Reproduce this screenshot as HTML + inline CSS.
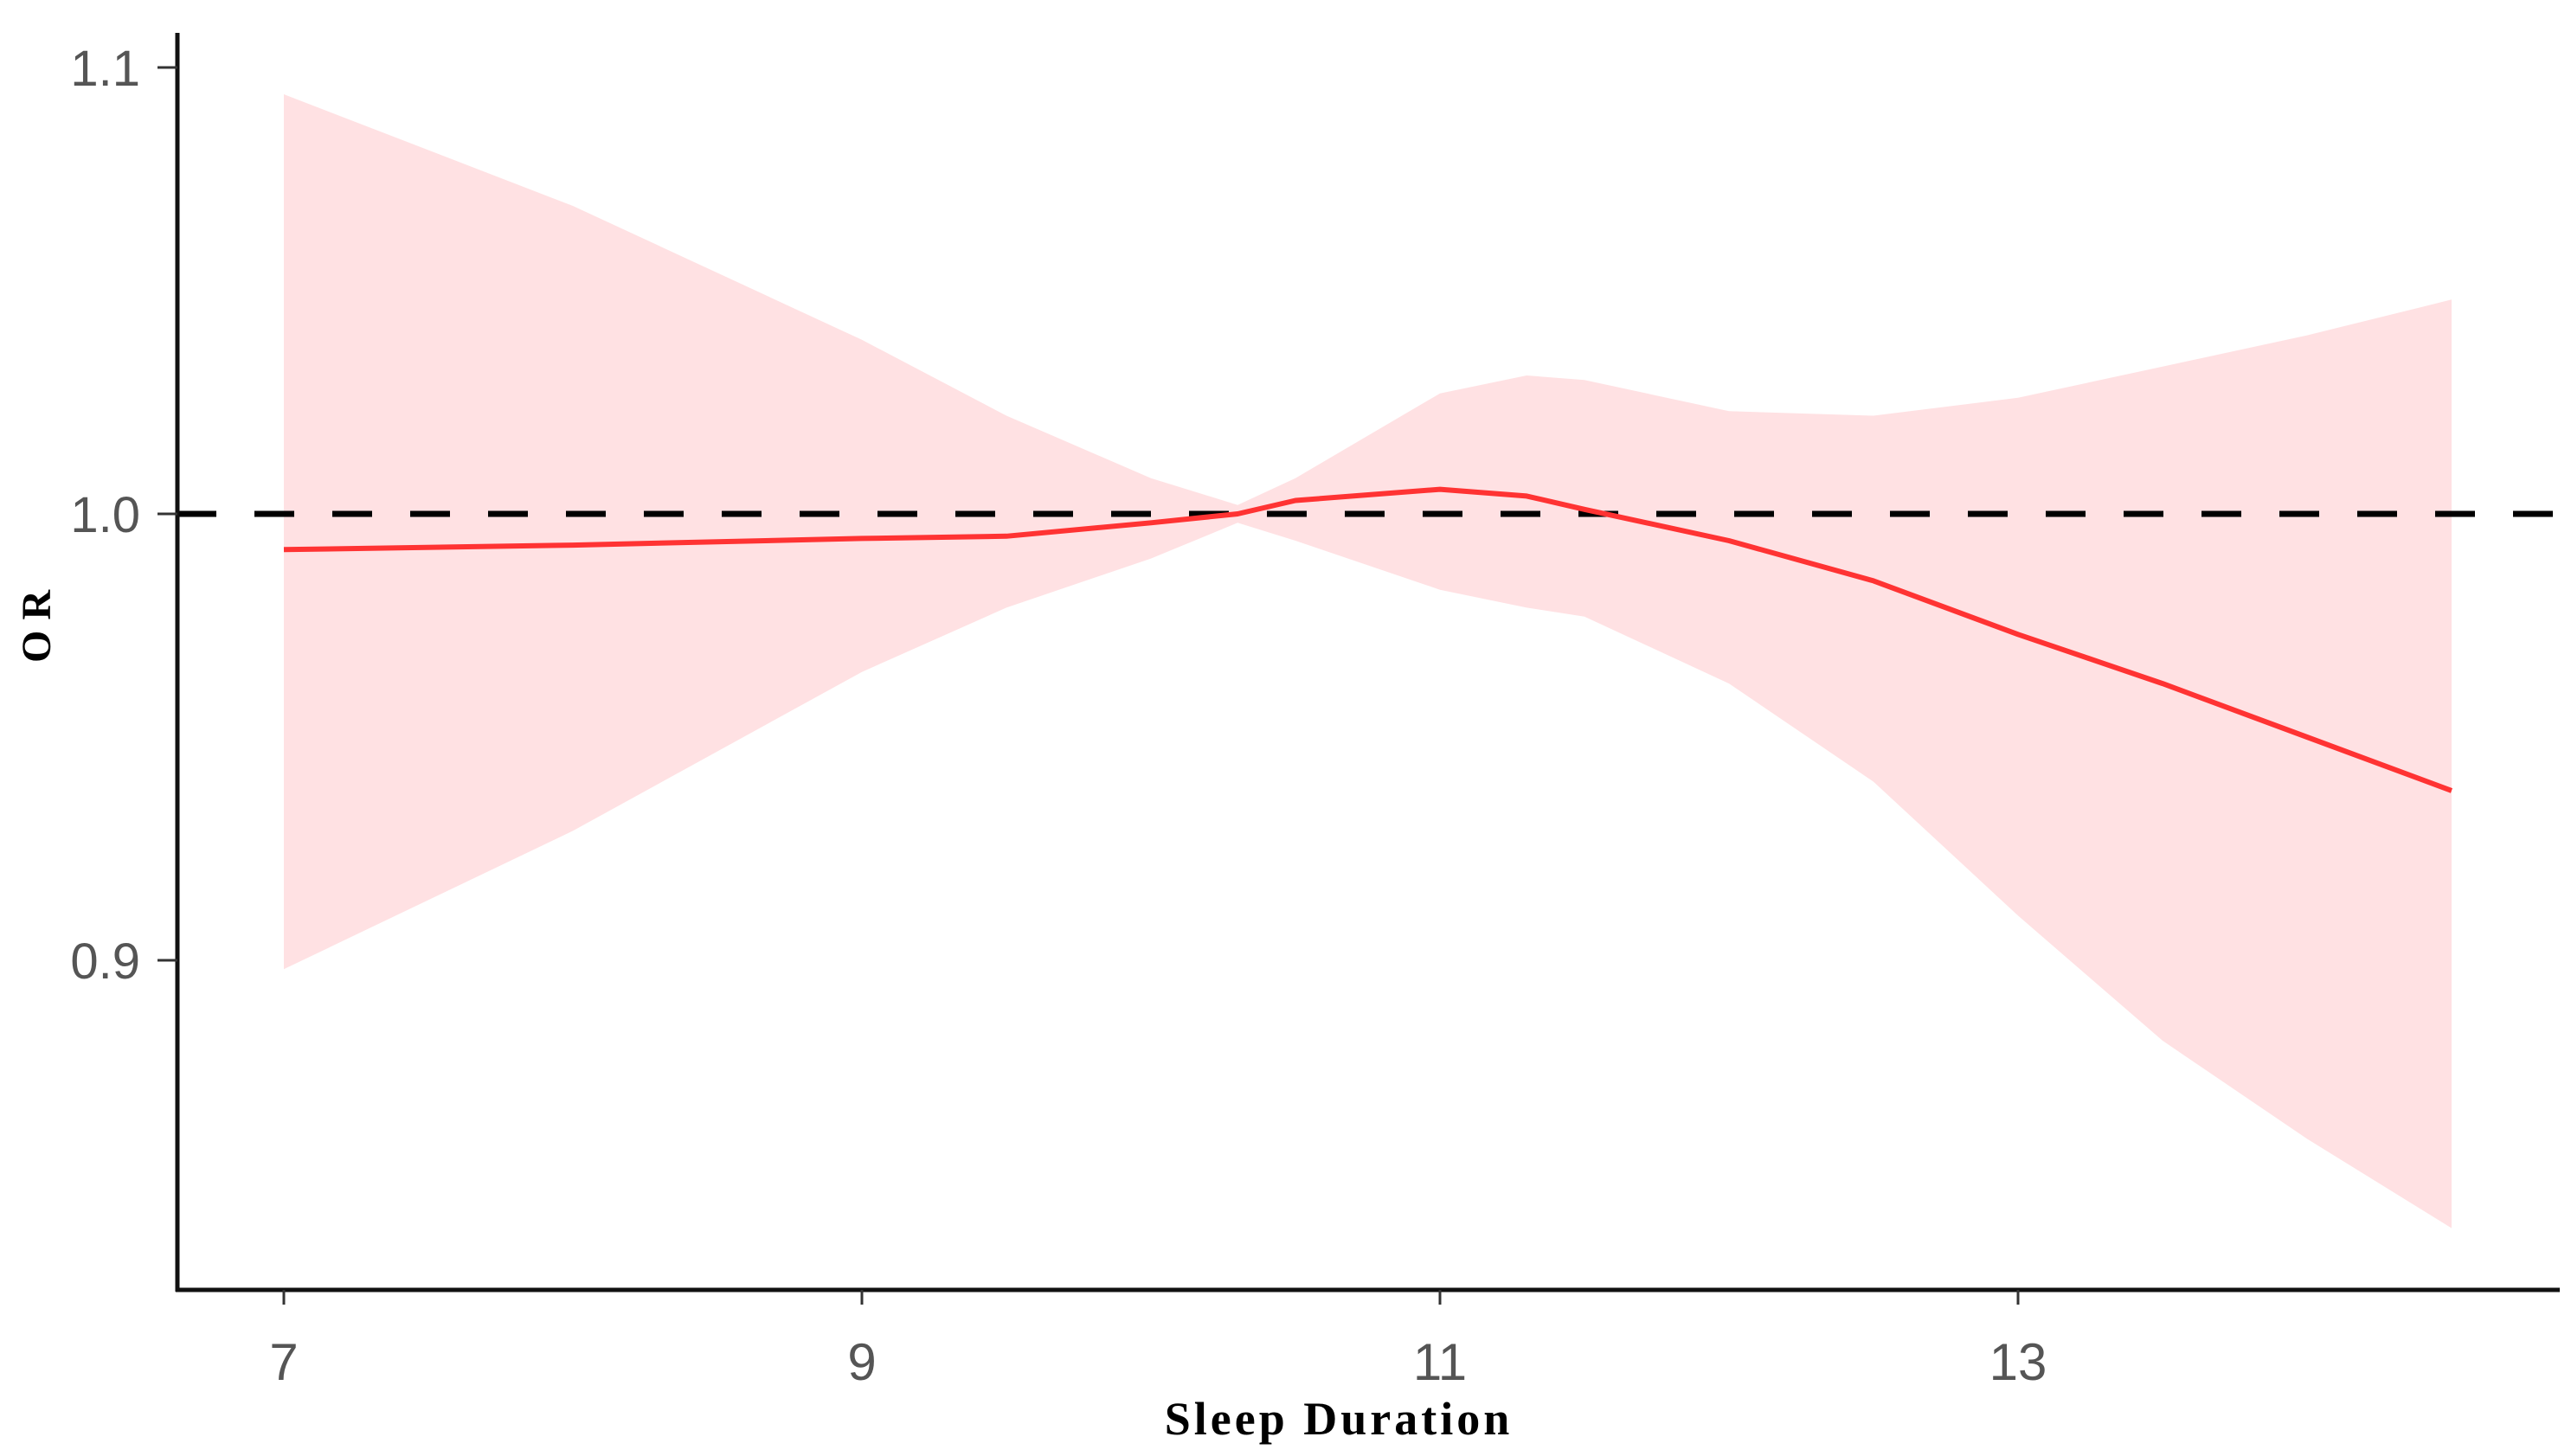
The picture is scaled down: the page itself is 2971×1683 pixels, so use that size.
<!DOCTYPE html>
<html><head><meta charset="utf-8"><style>
html,body{margin:0;padding:0;background:#fff;}
svg{display:block;}
</style></head><body>
<svg id="chart" width="2971" height="1683" viewBox="0 0 2971 1683" xmlns="http://www.w3.org/2000/svg">
<g id="plot"></g>
</svg>
<script>
const xs    = [7, 8, 9, 9.5, 10, 10.3, 10.5, 11, 11.3, 11.5, 12, 12.5, 13, 13.5, 14, 14.5];
const est   = [0.992, 0.993, 0.9945, 0.995, 0.998, 1.0, 1.003, 1.0055, 1.004, 1.001, 0.994, 0.985, 0.973, 0.962, 0.95, 0.938];
const upper = [1.094, 1.069, 1.039, 1.022, 1.008, 1.002, 1.008, 1.027, 1.031, 1.030, 1.023, 1.022, 1.026, 1.033, 1.040, 1.048];
const lower = [0.898, 0.929, 0.9646, 0.979, 0.99, 0.998, 0.994, 0.983, 0.979, 0.977, 0.962, 0.94, 0.91, 0.882, 0.86, 0.84];
const xTicks = [7, 9, 11, 13];
const yTicks = [0.9, 1.0, 1.1];
const yTickLabels = ["0.9", "1.0", "1.1"];
const refValue = 1.0;

const NS = "http://www.w3.org/2000/svg";
const g = document.getElementById("plot");
const X = v => 328 + (v - 7) * 334;
const Y = v => 594 - (v - 1.0) * 5160;
function mk(tag, attrs, parent){ const e=document.createElementNS(NS,tag); for(const k in attrs) e.setAttribute(k,attrs[k]); (parent||g).appendChild(e); return e; }

let d = xs.map((x,i)=>(i?"L":"M")+X(x).toFixed(1)+","+Y(upper[i]).toFixed(1)).join("");
for(let i=xs.length-1;i>=0;i--) d += "L"+X(xs[i]).toFixed(1)+","+Y(lower[i]).toFixed(1);
const rib = mk("path",{d:d+"Z",fill:"#ffe1e3",stroke:"none"});



const ref = mk("line",{x1:204,x2:2958,y1:Y(refValue),y2:Y(refValue),stroke:"#000","stroke-width":7,"stroke-dasharray":"46 44"});



const ln = mk("path",{d:xs.map((x,i)=>(i?"L":"M")+X(x).toFixed(1)+","+Y(est[i]).toFixed(1)).join(""),fill:"none",stroke:"#ff3333","stroke-width":6,"stroke-linejoin":"round"});



const ya = mk("line",{x1:205,x2:205,y1:38,y2:1493,stroke:"#111","stroke-width":5});


const xa = mk("line",{x1:203,x2:2958,y1:1491,y2:1491,stroke:"#111","stroke-width":5});



yTicks.forEach((t,i)=>{
  const tk = mk("line",{x1:182,x2:205,y1:Y(t),y2:Y(t),stroke:"#333","stroke-width":3});
  
  
  const tx = mk("text",{x:162,y:Y(t)+21,"text-anchor":"end","font-family":"Liberation Sans, sans-serif","font-size":58,fill:"#555"});
  tx.textContent = yTickLabels[i];
  
  
});
xTicks.forEach(t=>{
  const tk = mk("line",{x1:X(t),x2:X(t),y1:1491,y2:1508,stroke:"#333","stroke-width":3});
  
  
  const tx = mk("text",{x:X(t),y:1595,"text-anchor":"middle","font-family":"Liberation Sans, sans-serif","font-size":60,fill:"#555"});
  tx.textContent = String(t);
  
  
});

const xt = mk("text",{x:1547,y:1658,"text-anchor":"middle","font-family":"Liberation Serif, serif","font-size":54,"font-weight":"bold","letter-spacing":"4",fill:"#000"});
xt.textContent = "Sleep  Duration";


const yt = mk("text",{x:0,y:0,transform:"translate(58,724) rotate(-90)","text-anchor":"middle","font-family":"Liberation Serif, serif","font-size":48,"font-weight":"bold",fill:"#000"});
yt.textContent = "O R";


</script>
</body></html>
